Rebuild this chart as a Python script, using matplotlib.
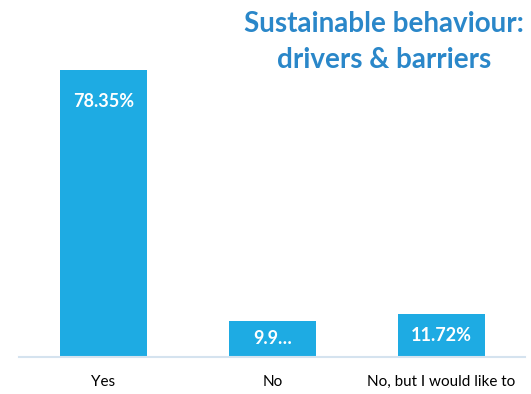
import matplotlib
matplotlib.use("Agg")
import matplotlib.pyplot as plt

categories = ["Yes", "No", "No, but I would like to"]
values = [78.35, 9.93, 11.72]
value_labels = ["78.35%", "9.9…", "11.72%"]

bar_color = "#1eabe3"
title_color = "#2a87c9"

fig = plt.figure(figsize=(5.31, 3.94), dpi=100)
ax = fig.add_axes([19 / 531, 37 / 394, (525.5 - 19) / 531, 293 / 394])

x = range(len(categories))
bars = ax.bar(x, values, width=0.515, color=bar_color)

ax.set_xlim(-0.5, len(categories) - 0.5)
ax.set_ylim(0, 80)

for rect, lab in zip(bars, value_labels):
    h = rect.get_height()
    cx = rect.get_x() + rect.get_width() / 2
    y = h - 8.5 if h > 20 else h / 2
    ax.text(cx, y, lab, ha="center", va="center", color="white",
            fontsize=13, fontweight="bold", family="Lato")

ax.set_xticks(list(x))
ax.set_xticklabels(categories, fontsize=11, family="Lato")
ax.tick_params(axis="x", length=0, pad=13)
ax.set_yticks([])
for side in ["left", "right", "top"]:
    ax.spines[side].set_visible(False)
ax.spines["bottom"].set_color("#d5e3ef")
ax.spines["bottom"].set_linewidth(1.5)

fig.text(384 / 531, 1 - 42 / 394, "Sustainable behaviour:\ndrivers & barriers",
         ha="center", va="center", multialignment="center",
         color=title_color, fontsize=20, fontweight="bold", family="Lato",
         linespacing=1.45)

fig.savefig("out.png", dpi=100)
